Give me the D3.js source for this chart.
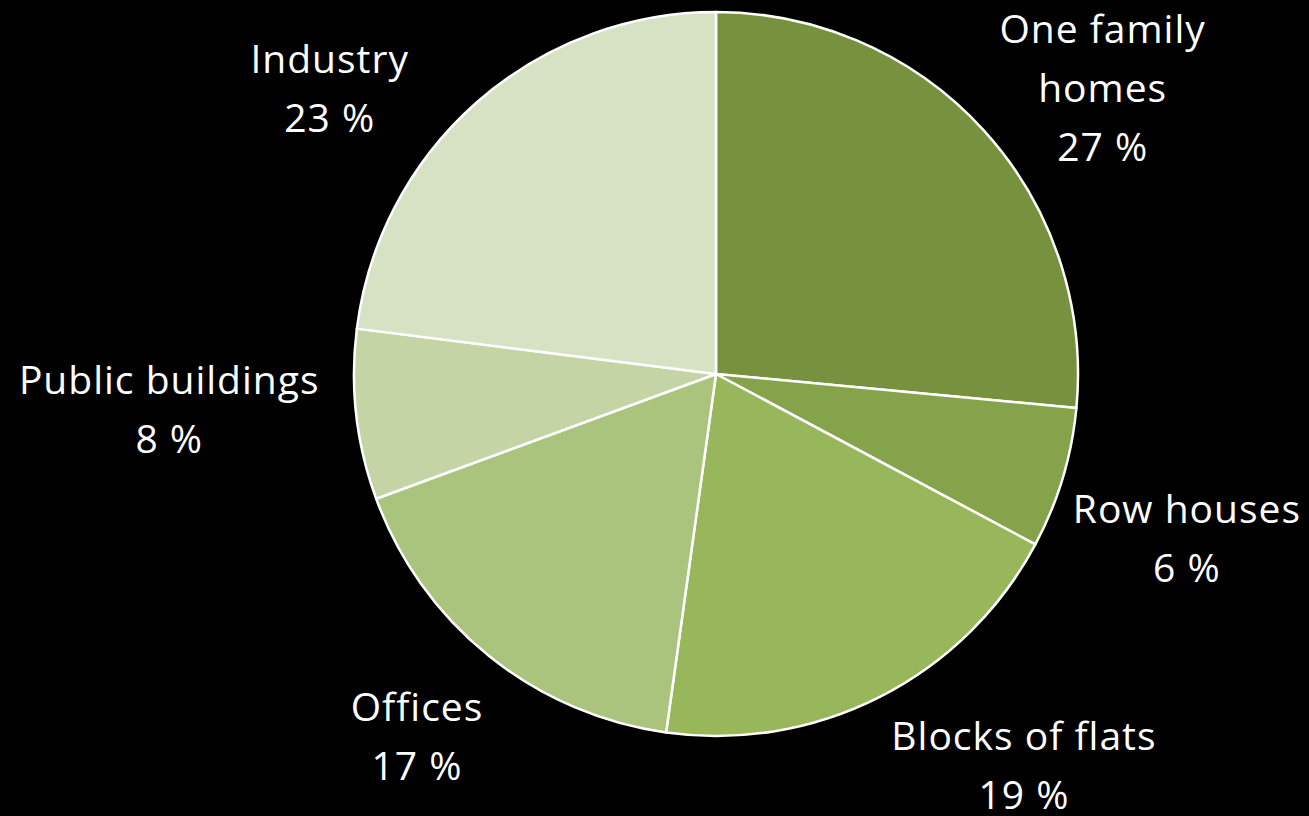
<!DOCTYPE html>
<html>
<head>
<meta charset="utf-8">
<script src="https://cdn.jsdelivr.net/npm/d3@7"></script>
<style>
  html, body { margin: 0; padding: 0; background: #000; }
  svg { display: block; }
</style>
</head>
<body>
<script>
// Chart data (shares; labels show them rounded)
const categories = ["One family homes", "Row houses", "Blocks of flats", "Offices", "Public buildings", "Industry"];
const shares = [26.5, 6.3, 19.4, 17.2, 7.6, 23.0];
const colors = ["#77913f", "#85a34a", "#98b65a", "#aac37d", "#c4d4a5", "#d7e1c4"];
// Label lines as they wrap in the picture
const labelLines = [["One family", "homes"], ["Row houses"], ["Blocks of flats"], ["Offices"], ["Public buildings"], ["Industry"]];

const width = 1309;
const height = 816;
const cx = 716;
const cy = 374;
const radius = 362;

// Label anchor: angle (deg, clockwise from 12 o'clock) and distance from the pie centre
const labelLayout = [
  { angle: 53.5, dist: 481 },
  { angle: 109.3, dist: 499 },
  { angle: 141.8, dist: 498 },
  { angle: 219.5, dist: 470 },
  { angle: 266.2, dist: 548 },
  { angle: 306.4, dist: 480 }
];
const lineHeight = 59;

const svg = d3.select("body")
  .append("svg")
  .attr("width", width)
  .attr("height", height)
  .attr("viewBox", [0, 0, width, height]);

svg.append("rect")
  .attr("width", width)
  .attr("height", height)
  .attr("fill", "#000");

const data = categories.map((name, i) => ({ name, value: shares[i], i }));

const pie = d3.pie()
  .value((d) => d.value)
  .sort(null);

const arc = d3.arc()
  .innerRadius(0)
  .outerRadius(radius);

const g = svg.append("g").attr("transform", `translate(${cx},${cy})`);

g.selectAll("path")
  .data(pie(data))
  .join("path")
  .attr("d", arc)
  .attr("fill", (d) => colors[d.data.i])
  .attr("stroke", "#fff")
  .attr("stroke-width", 2.5)
  .attr("stroke-linejoin", "round");

// Labels
g.selectAll("text.label")
  .data(data)
  .join("text")
  .attr("class", "label")
  .attr("text-anchor", "middle")
  .attr("fill", "#fff")
  .attr("font-family", "'Open Sans', Lato, sans-serif")
  .attr("font-size", 39)
  .attr("letter-spacing", 1)
  .each(function (d) {
    const lay = labelLayout[d.i];
    const a = (lay.angle * Math.PI) / 180;
    const x = Math.sin(a) * lay.dist;
    const y = -Math.cos(a) * lay.dist;
    const lines = labelLines[d.i].concat([`${Math.round(d.value)} %`]);
    const top = y - ((lines.length - 1) * lineHeight) / 2;
    d3.select(this)
      .selectAll("tspan")
      .data(lines)
      .join("tspan")
      .attr("x", x)
      .attr("y", (t, k) => top + k * lineHeight)
      .attr("dy", "0.35em")
      .text((t) => t);
  });
</script>
</body>
</html>
